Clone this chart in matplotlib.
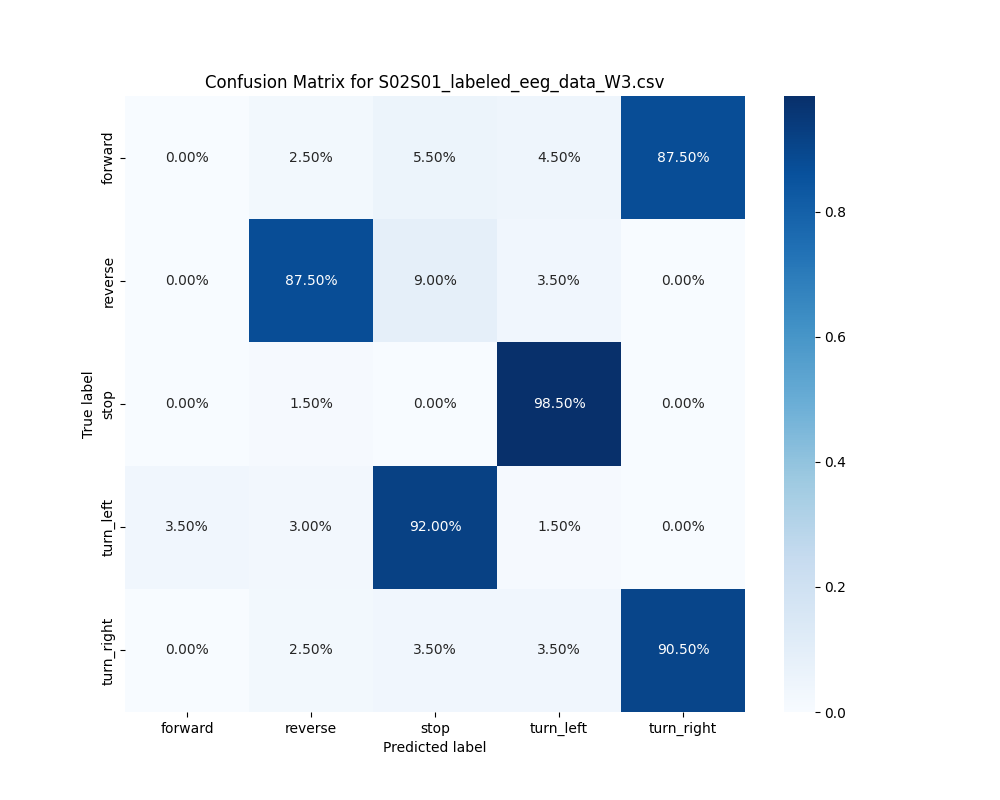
import matplotlib
matplotlib.use("Agg")
import matplotlib.pyplot as plt
import seaborn as sns
import numpy as np

labels = ["forward", "reverse", "stop", "turn_left", "turn_right"]
row_forward = [0.0, 0.025, 0.055, 0.045, 0.875]
row_reverse = [0.0, 0.875, 0.09, 0.035, 0.0]
row_stop = [0.0, 0.015, 0.0, 0.985, 0.0]
row_turn_left = [0.035, 0.03, 0.92, 0.015, 0.0]
row_turn_right = [0.0, 0.025, 0.035, 0.035, 0.905]

cm = np.array([row_forward, row_reverse, row_stop, row_turn_left, row_turn_right])

fig = plt.figure(figsize=(10, 8), dpi=100)
ax = sns.heatmap(cm, annot=True, fmt=".2%", cmap="Blues",
                 xticklabels=labels, yticklabels=labels)
ax.set_title("Confusion Matrix for S02S01_labeled_eeg_data_W3.csv")
ax.set_xlabel("Predicted label")
ax.set_ylabel("True label")
fig.savefig("out.png", dpi=100)
